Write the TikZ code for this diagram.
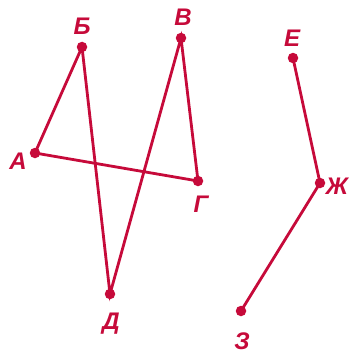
\documentclass[tikz,border=0pt]{standalone}
\usepackage{fontspec}
\setmainfont{Liberation Sans}
\usepackage{xcolor}
\definecolor{crimsonred}{RGB}{198,10,58}

\begin{document}
\begin{tikzpicture}[x=1pt, y=-1pt,
            pt/.style={circle, fill=crimsonred, inner sep=0pt, minimum size=10.5pt},
            lbl/.style={text=crimsonred, font=\fontsize{24}{24}\selectfont\bfseries\itshape, inner sep=0pt},
            seg/.style={draw=crimsonred, line width=2.8pt, line cap=round}]

        \useasboundingbox (0,0) rectangle (350,356);

        % points
        \node [pt] (A) at (35,153) {};
        \node [pt] (B) at (82,47) {};
        \node [pt] (V) at (181,38) {};
        \node [pt] (G) at (198,181) {};
        \node [pt] (D) at (110,294) {};
        \node [pt] (E) at (293,58) {};
        \node [pt] (Zh) at (320,183) {};
        \node [pt] (Z) at (241,311) {};

        % letters
        \node [lbl] (lA) at (18,161) {А};
        \node [lbl] (lB) at (82,26) {Б};
        \node [lbl] (lV) at (183,17) {В};
        \node [lbl] (lG) at (201,204) {Г};
        \node [lbl] (lD) at (111,324) {Д};
        \node [lbl] (lE) at (292,38) {Е};
        \node [lbl] (lZh) at (337,186) {Ж};
        \node [lbl] (lZ) at (242,341) {З};

        % left figure
        \draw [seg] (A.center) -- (B.center) -- (D.center) -- (V.center) -- (G.center) -- (A.center);

        % right figure
        \draw [seg] (E.center) -- (Zh.center) -- (Z.center);

    \end{tikzpicture}
\end{document}
